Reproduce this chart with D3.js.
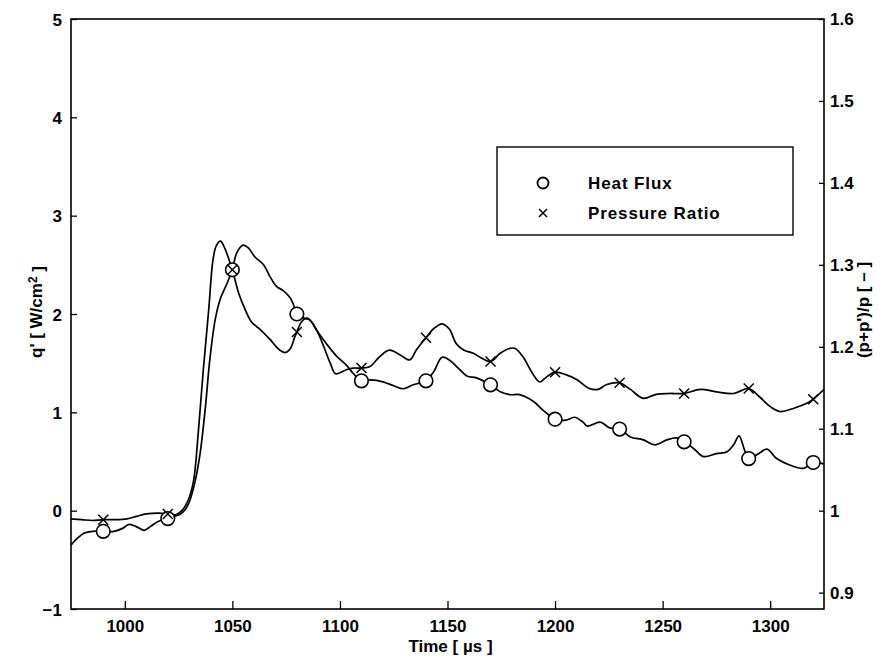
<!DOCTYPE html>
<html><head><meta charset="utf-8">
<script src="https://cdn.jsdelivr.net/npm/d3@7"></script>
<style>
html,body{margin:0;padding:0;background:#fff;}
text{font-family:"Liberation Sans",Arial,Helvetica,sans-serif;font-weight:bold;fill:#000;}
</style></head>
<body>
<svg id="chart" width="887" height="662"></svg>
<script>
// ---- data ----
const xTicks = [1000, 1050, 1100, 1150, 1200, 1250, 1300];
const yLeftTicks = [-1, 0, 1, 2, 3, 4, 5];
const yRightTicks = [0.9, 1, 1.1, 1.2, 1.3, 1.4, 1.5, 1.6];
const markerTimes = [990, 1020, 1050, 1080, 1110, 1140, 1170, 1200, 1230, 1260, 1290, 1320];
const seriesNames = ["Heat Flux", "Pressure Ratio"];

// Heat flux q' [W/cm^2] (left axis)
const heatT = [975, 978, 981, 985, 990, 995, 999, 1002, 1006, 1009, 1012, 1015.5, 1018.5, 1020,
  1022.5, 1025.5, 1028, 1030, 1032.5, 1035, 1037.5, 1039.5, 1042, 1044.5, 1047.5, 1050, 1052,
  1055, 1057.5, 1060.5, 1064.5, 1067.5, 1070.5, 1073.5, 1077, 1079, 1080, 1083, 1086, 1089,
  1094, 1098.5, 1103, 1106, 1110, 1114.5, 1120, 1125, 1129.5, 1134, 1140, 1143.5, 1147.5,
  1151, 1155, 1159, 1163.5, 1170, 1174.5, 1179, 1183.5, 1190, 1194.5, 1200, 1205, 1209,
  1213, 1215, 1221, 1225.5, 1230, 1235, 1241, 1246.5, 1252, 1256.5, 1260, 1264.5, 1269,
  1275, 1280, 1283, 1285.5, 1288, 1290, 1294.5, 1298.5, 1303, 1309, 1315.5, 1320, 1325];
const heatQ = [-0.35, -0.28, -0.23, -0.21, -0.21, -0.21, -0.18, -0.14, -0.17, -0.20, -0.16, -0.11, -0.09, -0.08,
  -0.06, -0.04, 0.01, 0.09, 0.28, 0.58, 1.06, 1.53, 1.94, 2.16, 2.31, 2.45, 2.62,
  2.70, 2.67, 2.58, 2.50, 2.38, 2.28, 2.24, 2.16, 2.06, 2.00, 1.96, 1.94, 1.84,
  1.69, 1.57, 1.48, 1.40, 1.32, 1.33, 1.31, 1.27, 1.24, 1.28, 1.32, 1.41, 1.56,
  1.53, 1.45, 1.37, 1.35, 1.28, 1.21, 1.18, 1.18, 1.11, 1.02, 0.93, 0.92, 0.95,
  0.90, 0.86, 0.90, 0.84, 0.83, 0.75, 0.72, 0.67, 0.72, 0.74, 0.70, 0.63, 0.55,
  0.58, 0.60, 0.67, 0.76, 0.62, 0.53, 0.58, 0.625, 0.53, 0.465, 0.43, 0.49, 0.475];

// Pressure ratio (p+p')/p [-] (right axis)
const presT = [975, 980, 985, 990, 995, 1001, 1005.5, 1010, 1016, 1020, 1023.5, 1026.5, 1029.5,
  1032, 1034, 1036.5, 1039, 1041, 1042.5, 1044.5, 1046.5, 1049, 1050, 1053, 1056, 1059, 1063,
  1067.5, 1072, 1074.5, 1077, 1079, 1080, 1082, 1084.5, 1087, 1090, 1092.5, 1095.5, 1098,
  1103, 1106, 1110, 1114, 1118.5, 1123, 1128, 1132.5, 1135.5, 1140, 1143.5, 1147.5, 1151,
  1154, 1157.5, 1162, 1166, 1170, 1174.5, 1179, 1181.5, 1185, 1188.5, 1191.5, 1193, 1196,
  1200, 1205, 1210, 1216, 1220, 1224, 1230, 1235, 1241, 1247, 1253, 1260, 1267.5, 1275,
  1283, 1290, 1295, 1300, 1304.5, 1311, 1317, 1320, 1325];
const presR = [0.990, 0.989, 0.988, 0.989, 0.989, 0.990, 0.993, 0.996, 0.997, 0.996, 0.995, 1.000, 1.013,
  1.037, 1.090, 1.172, 1.245, 1.306, 1.323, 1.329, 1.320, 1.302, 1.294, 1.265, 1.245, 1.230, 1.221,
  1.209, 1.196, 1.193, 1.198, 1.212, 1.218, 1.230, 1.235, 1.230, 1.216, 1.200, 1.180, 1.167,
  1.172, 1.174, 1.174, 1.176, 1.188, 1.196, 1.190, 1.184, 1.196, 1.211, 1.222, 1.228, 1.221,
  1.204, 1.196, 1.192, 1.186, 1.182, 1.192, 1.198, 1.198, 1.188, 1.172, 1.160, 1.157, 1.163,
  1.169, 1.166, 1.160, 1.149, 1.148, 1.154, 1.156, 1.148, 1.137, 1.142, 1.143, 1.143, 1.148, 1.145,
  1.143, 1.149, 1.139, 1.127, 1.121, 1.125, 1.131, 1.136, 1.148];

// ---- layout ----
const W = 887, H = 662;
const L = 71, R = 824, T = 19, B = 609;
const svg = d3.select("#chart");
svg.append("rect").attr("width", W).attr("height", H).attr("fill", "#fff");

const x = d3.scaleLinear().domain([975, 1325]).range([L, R]);
const yL = d3.scaleLinear().domain([-1, 5]).range([B, T]);
const yR = d3.scaleLinear().domain([0.88, 1.6]).range([B, T]);

const heat = heatT.map((t, i) => ({t, v: heatQ[i]}));
const pres = presT.map((t, i) => ({t, v: presR[i]}));

function interp(data, t) {
  const i = d3.bisector(d => d.t).left(data, t);
  if (i <= 0) return data[0].v;
  if (i >= data.length) return data[data.length - 1].v;
  const a = data[i - 1], b = data[i];
  if (b.t === t) return b.v;
  return a.v + (b.v - a.v) * (t - a.t) / (b.t - a.t);
}

// axes
const fs = "17px";
const ax = svg.append("g").attr("transform", `translate(0,${B})`)
  .call(d3.axisBottom(x).tickValues(xTicks).tickSize(-8).tickPadding(11).tickFormat(d3.format("d")));
const ayl = svg.append("g").attr("transform", `translate(${L},0)`)
  .call(d3.axisLeft(yL).tickValues(yLeftTicks).tickSize(-6).tickPadding(9).tickFormat(d => d < 0 ? "\u2212" + Math.abs(d) : d));
const ayr = svg.append("g").attr("transform", `translate(${R},0)`)
  .call(d3.axisRight(yR).tickValues(yRightTicks).tickSize(-5).tickPadding(6).tickFormat(d => String(+d.toFixed(1))));
[ax, ayl, ayr].forEach(g => {
  g.select(".domain").remove();
  g.selectAll(".tick line").attr("stroke", "#000").attr("stroke-width", 1.3);
  g.selectAll(".tick text").style("font-size", fs).attr("fill", "#000");
});
ayl.selectAll(".tick text").attr("dy", "0.36em");

// frame
svg.append("rect").attr("x", L).attr("y", T).attr("width", R - L).attr("height", B - T)
  .attr("fill", "none").attr("stroke", "#000").attr("stroke-width", 1.6);

// axis titles
svg.append("text").attr("x", (L + R) / 2 + 3).attr("y", 652).attr("text-anchor", "middle")
  .style("font-size", fs).text("Time  [ \u00b5s ]");
const yl = svg.append("text").attr("transform", `translate(42,312) rotate(-90)`)
  .attr("text-anchor", "middle").style("font-size", fs);
yl.append("tspan").text("q'  [ W/cm");
yl.append("tspan").attr("dy", "-0.45em").style("font-size", "12px").text("2");
yl.append("tspan").attr("dy", "0.45em").text(" ]");
svg.append("text").attr("transform", `translate(869,310) rotate(-90)`)
  .attr("text-anchor", "middle").style("font-size", fs).text("(p+p')/p  [ \u2013 ]");

// lines
const clip = svg.append("clipPath").attr("id", "clip").append("rect")
  .attr("x", L).attr("y", T).attr("width", R - L).attr("height", B - T);
const plot = svg.append("g").attr("clip-path", "url(#clip)");

const lineH = d3.line().x(d => x(d.t)).y(d => yL(d.v)).curve(d3.curveCatmullRom.alpha(0.5));
const lineP = d3.line().x(d => x(d.t)).y(d => yR(d.v)).curve(d3.curveCatmullRom.alpha(0.5));

plot.append("path").datum(heat).attr("d", lineH).attr("fill", "none")
  .attr("stroke", "#000").attr("stroke-width", 1.7).attr("stroke-linejoin", "round");
svg.append("g").selectAll("circle").data(markerTimes).join("circle")
  .attr("cx", t => x(t)).attr("cy", t => yL(interp(heat, t))).attr("r", 6.8)
  .attr("fill", "#fff").attr("stroke", "#000").attr("stroke-width", 1.6);

plot.append("path").datum(pres).attr("d", lineP).attr("fill", "none")
  .attr("stroke", "#000").attr("stroke-width", 1.7).attr("stroke-linejoin", "round");
const xs = 5;
svg.append("g").selectAll("path").data(markerTimes).join("path")
  .attr("transform", t => `translate(${x(t)},${yR(interp(pres, t))})`)
  .attr("d", `M${-xs},${-xs}L${xs},${xs}M${-xs},${xs}L${xs},${-xs}`)
  .attr("stroke", "#000").attr("stroke-width", 1.5);

// legend
const lg = svg.append("g");
lg.append("rect").attr("x", 497).attr("y", 147).attr("width", 296).attr("height", 88)
  .attr("fill", "#fff").attr("stroke", "#000").attr("stroke-width", 1.4);
lg.append("circle").attr("cx", 543).attr("cy", 183).attr("r", 5.5)
  .attr("fill", "none").attr("stroke", "#000").attr("stroke-width", 1.8);
lg.append("path").attr("transform", "translate(543,213)")
  .attr("d", "M-4,-4L4,4M-4,4L4,-4").attr("stroke", "#000").attr("stroke-width", 1.5);
lg.append("text").attr("x", 588).attr("y", 183).attr("dy", "0.36em").style("font-size", "17px")
  .style("letter-spacing", "0.9px").text(seriesNames[0]);
lg.append("text").attr("x", 588).attr("y", 213).attr("dy", "0.36em").style("font-size", "17px")
  .style("letter-spacing", "0.9px").text(seriesNames[1]);
</script>
</body></html>
